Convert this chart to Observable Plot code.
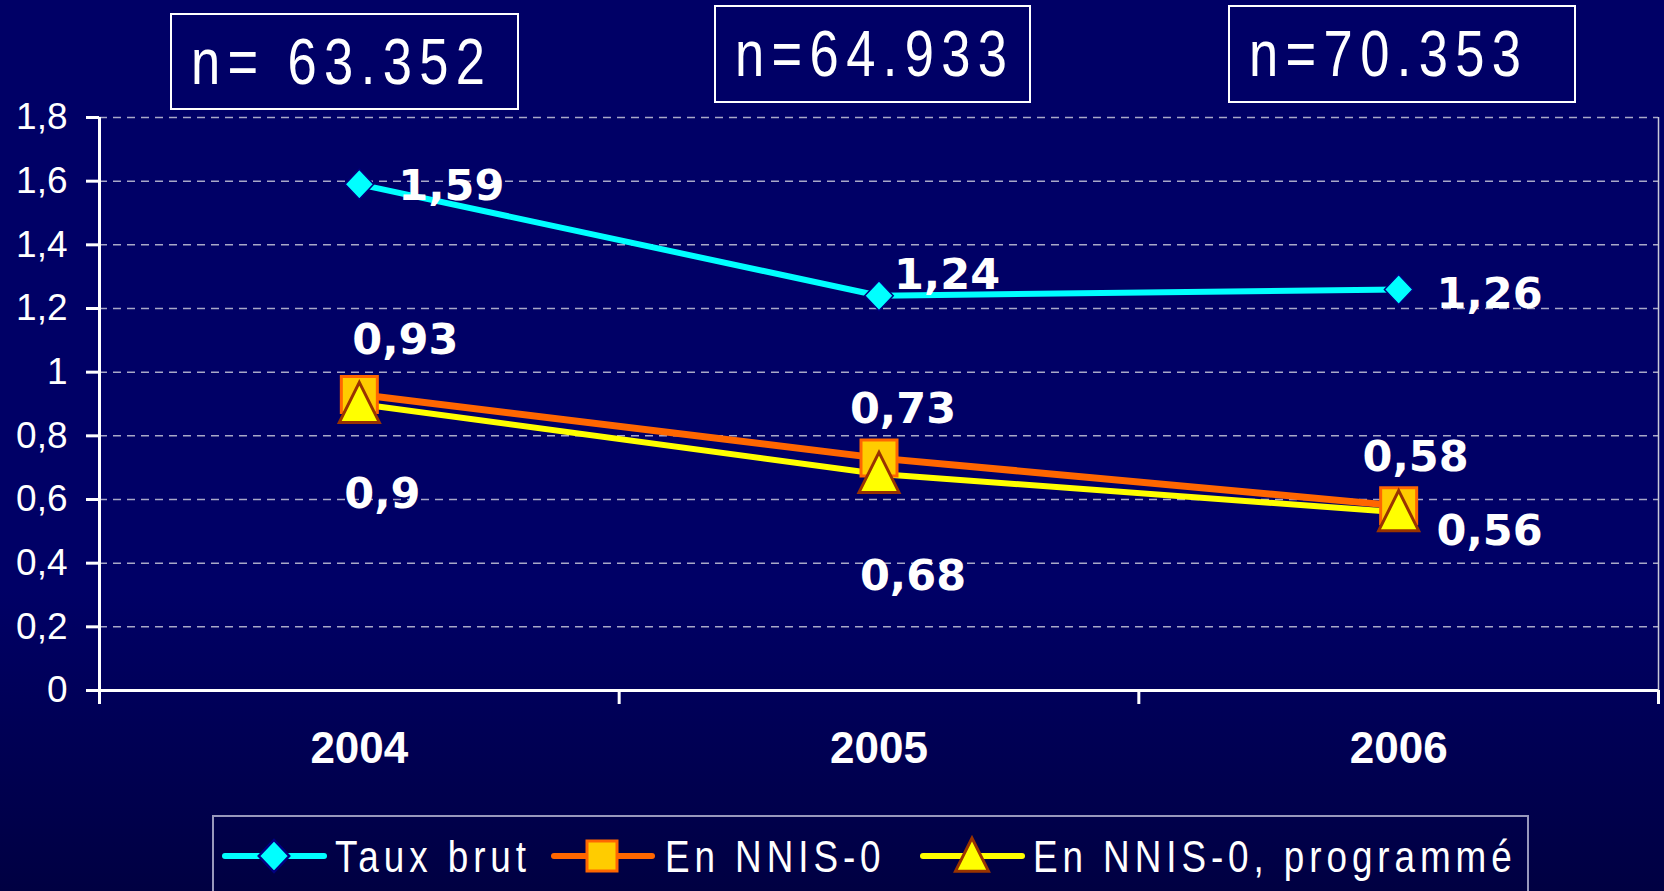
<!DOCTYPE html>
<html><head><meta charset="utf-8">
<script src="https://cdn.jsdelivr.net/npm/d3@7"></script>
<script src="https://cdn.jsdelivr.net/npm/@observablehq/plot@0.6"></script>
<style>
html,body{margin:0;padding:0;}
body{width:1664px;height:891px;overflow:hidden;background:linear-gradient(to bottom,#000066 0%,#000066 66%,#000042 100%);font-family:"Liberation Sans",Arial,sans-serif;color:#fff;}
#wrap{position:relative;width:1664px;height:891px;}
#chart{position:absolute;left:0;top:0;}
.nbox{position:absolute;box-sizing:border-box;border:2px solid #fff;color:#fff;font-size:64px;display:flex;align-items:center;white-space:nowrap;padding-left:19px;font-family:"Liberation Sans",Arial,sans-serif;}
.nbox span{display:inline-block;transform:scaleX(0.82);transform-origin:0 50%;letter-spacing:9px;}
#legend{position:absolute;left:212px;top:815px;}
#chart [aria-label^="x-axis"] line,#chart [aria-label^="y-axis"] line,#chart [aria-label^="x-axis"] path,#chart [aria-label^="y-axis"] path{stroke-width:3px;stroke:#fff;}
</style></head><body>
<div id="wrap"><div id="chart"></div><div id="legend"></div></div>
<script>
// ---- data ----
const years = ["2004", "2005", "2006"];
const nLabels = ["n= 63.352", "n=64.933", "n=70.353"];
const seriesNames = ["Taux brut", "En NNIS-0", "En NNIS-0, programmé"];
const tauxBrut = [1.59, 1.24, 1.26];
const nnis0 = [0.93, 0.73, 0.58];
const nnis0Prog = [0.90, 0.68, 0.56];
const yTicks = [0, 0.2, 0.4, 0.6, 0.8, 1, 1.2, 1.4, 1.6, 1.8];

// ---- styling / layout ----
const fmt = v => String(v).replace(".", ",");
const diamondSym = {draw(ctx, size) {const r = Math.sqrt(size / Math.PI), w = r * 0.95; ctx.moveTo(0, -r); ctx.lineTo(w, 0); ctx.lineTo(0, r); ctx.lineTo(-w, 0); ctx.closePath();}};
const squareSym = {draw(ctx, size) {const r = Math.sqrt(size / Math.PI); ctx.moveTo(-r, -r); ctx.lineTo(r, -r); ctx.lineTo(r, r); ctx.lineTo(-r, r); ctx.closePath();}};
const triangleSym = {draw(ctx, size) {const r = Math.sqrt(size / Math.PI); ctx.moveTo(0, -1.08 * r); ctx.lineTo(r, 0.92 * r); ctx.lineTo(-r, 0.92 * r); ctx.closePath();}};
const seriesStyle = [
  {line: "#00FFFF", lw: 6, symbol: diamondSym, r: 15, fill: "#00FFFF", stroke: "#000080", sw: 1.5},
  {line: "#FF6600", lw: 7, symbol: squareSym, r: 18, fill: "#FFCC00", stroke: "#FF6600", sw: 3},
  {line: "#FFFF00", lw: 6, symbol: triangleSym, r: 20, fill: "#FFFF00", stroke: "#993300", sw: 3}
];
const labelOffsets = [
  [[92, 2], [68, -21], [91, 5]],
  [[46, -54], [24, -49], [17, -49]],
  [[23, 90], [34, 102], [91, 19]]
];
const boxLayout = [
  {left: 170, top: 13, width: 349, height: 97},
  {left: 714, top: 5, width: 317, height: 98},
  {left: 1228, top: 5, width: 348, height: 98}
];

const seriesValues = [tauxBrut, nnis0, nnis0Prog];
const rows = [];
seriesNames.forEach((s, k) => years.forEach((yr, i) => rows.push({series: s, k, year: yr, i, value: seriesValues[k][i]})));
const xPos = d => d.i + 0.5;

const marks = [
  Plot.ruleY(yTicks.filter(d => d > 0), {stroke: "#a8a8c8", strokeWidth: 1.5, strokeDasharray: "8,6"}),
  Plot.ruleX([years.length], {stroke: "#c8c8d8", strokeWidth: 1.5}),
  Plot.ruleX([0], {stroke: "#fff", strokeWidth: 3, insetBottom: -14}),
  Plot.ruleY([0], {stroke: "#fff", strokeWidth: 3, insetLeft: -13})
];
seriesNames.forEach((s, k) => {
  const st = seriesStyle[k];
  marks.push(Plot.line(rows.filter(d => d.k === k), {x: xPos, y: "value", stroke: st.line, strokeWidth: st.lw}));
});
seriesNames.forEach((s, k) => {
  const st = seriesStyle[k];
  marks.push(Plot.dot(rows.filter(d => d.k === k), {x: xPos, y: "value", symbol: st.symbol, r: st.r, fill: st.fill, stroke: st.stroke, strokeWidth: st.sw}));
});
rows.forEach(d => {
  const [dx, dy] = labelOffsets[d.k][d.i];
  marks.push(Plot.text([d], {x: xPos, y: "value", text: v => fmt(v.value), dx, dy, fill: "#fff", fontSize: 43, fontWeight: "bold", fontFamily: "DejaVu Sans", textAnchor: "middle", lineAnchor: "middle"}));
});
marks.push(Plot.text(years, {x: (d, i) => i + 0.5, text: d => d, frameAnchor: "bottom", dy: 58, lineAnchor: "middle", fill: "#fff", fontSize: 44, fontWeight: "bold", fontFamily: "Liberation Sans"}));

const chart = Plot.plot({
  width: 1664, height: 800,
  marginLeft: 99, marginRight: 6, marginTop: 117, marginBottom: 110,
  style: {background: "transparent", color: "#fff", fontFamily: '"Liberation Sans", Arial, sans-serif', fontSize: "37px", overflow: "visible"},
  x: {type: "linear", domain: [0, years.length], ticks: d3.range(years.length + 1), tickSize: 14, tickFormat: () => "", label: null},
  y: {domain: [0, 1.8], ticks: yTicks, tickSize: 13, tickPadding: 19, tickFormat: fmt, label: null},
  marks
});
document.getElementById("chart").appendChild(chart);

// n= boxes above the plot
const wrap = document.getElementById("wrap");
nLabels.forEach((t, i) => {
  const b = document.createElement("div");
  b.className = "nbox";
  const L = boxLayout[i];
  Object.assign(b.style, {left: L.left + "px", top: L.top + "px", width: L.width + "px", height: L.height + "px"});
  const sp = document.createElement("span");
  sp.textContent = t;
  b.appendChild(sp);
  wrap.appendChild(b);
});

// legend below the plot
const legPos = [{line: [13, 112], sym: 62, text: 123}, {line: [342, 440], sym: 390, text: 453}, {line: [711, 810], sym: 760, text: 821}];
const legR = [16, 15, 16.5];
const leg = d3.select("#legend").append("svg").attr("width", 1320).attr("height", 80).style("overflow", "visible");
leg.append("path").attr("d", "M1,90 V1 H1316 V90").attr("fill", "none").attr("stroke", "#9898bc").attr("stroke-width", 2);
seriesNames.forEach((s, k) => {
  const st = seriesStyle[k], P = legPos[k];
  leg.append("line").attr("x1", P.line[0]).attr("x2", P.line[1]).attr("y1", 41).attr("y2", 41)
    .attr("stroke", st.line).attr("stroke-width", 6).attr("stroke-linecap", "round");
  const p = d3.path();
  st.symbol.draw(p, legR[k] * legR[k] * Math.PI);
  leg.append("path").attr("d", p.toString()).attr("transform", `translate(${P.sym},41)`)
    .attr("fill", st.fill).attr("stroke", st.stroke).attr("stroke-width", k === 0 ? 2.5 : 3);
  leg.append("text").attr("transform", `translate(${P.text},57) scale(0.82,1)`).attr("fill", "#fff")
    .attr("font-family", '"Liberation Sans", Arial, sans-serif').attr("font-size", 45).attr("letter-spacing", 6).text(s);
});
</script>
</body></html>
